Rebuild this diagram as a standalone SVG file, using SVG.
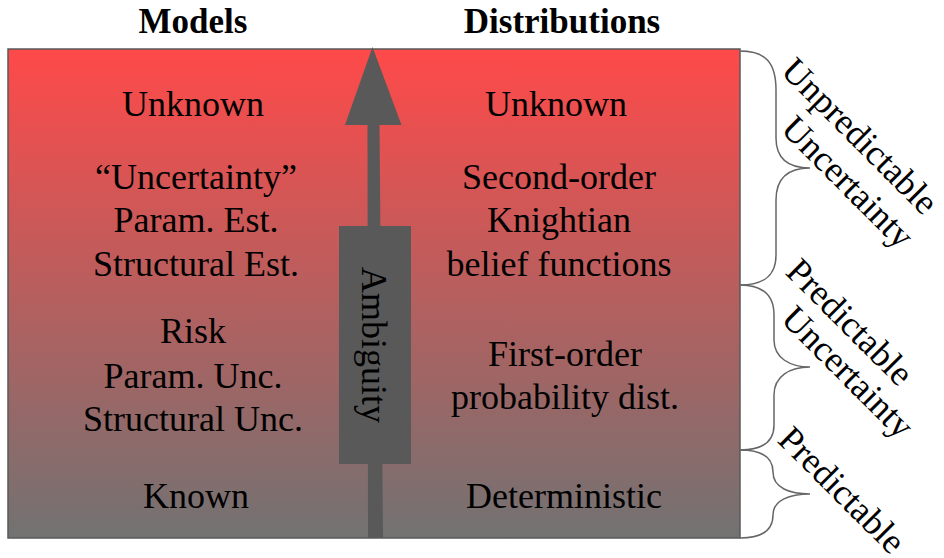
<svg xmlns="http://www.w3.org/2000/svg" width="944" height="558" viewBox="0 0 944 558">
<defs>
<linearGradient id="bg" x1="0" y1="0" x2="0" y2="1">
<stop offset="0" stop-color="#ff4949"/>
<stop offset="0.5" stop-color="#b65f5e"/>
<stop offset="1" stop-color="#727272"/>
</linearGradient>
<style>
.t{font-family:"Liberation Serif","Times New Roman",serif;font-size:36px;fill:#000;text-anchor:middle}
.h{font-weight:bold;font-size:35px}
.br{fill:none;stroke:#666;stroke-width:1.5}
</style>
</defs>
<g id="headers">
<text class="t h" x="193" y="33">Models</text>
<text class="t h" x="562" y="33">Distributions</text>
</g>
<g id="panel">
<rect x="8" y="49" width="732" height="489" fill="url(#bg)" stroke="#5a5a5a" stroke-width="1.5"/>
</g>
<g id="connectors">
<polygon points="368,538 383,538 379.5,124 367.5,124" fill="#595959"/>
<polygon points="372.5,47 401.5,125 345,125" fill="#595959"/>
<path class="br" d="M740,51 C765,51 776,62 776,90 L776,138 C776,160 790,168 810,168 C790,168 776,176 776,200 L776,255 C776,275 765,285 740,285"/>
<path class="br" d="M740,285 C762,285 774,295 774,315 L774,340 C774,358 790,367 810,367 C790,367 774,376 774,395 L774,425 C774,442 762,450 740,450"/>
<path class="br" d="M740,450 C762,450 773,458 773,472 C773,488 790,494 810,494 C790,494 773,500 773,515 C773,530 762,538 740,538"/>
</g>
<g id="ambiguity">
<rect x="339" y="226" width="72" height="238" fill="#595959"/>
<text class="t" x="0" y="0" transform="translate(362,345) rotate(90)">Ambiguity</text>
</g>
<g id="models">
<text class="t" x="193" y="116">Unknown</text>
<text class="t" x="196" y="189">“Uncertainty”</text>
<text class="t" x="196" y="232">Param. Est.</text>
<text class="t" x="196" y="276">Structural Est.</text>
<text class="t" x="193" y="343">Risk</text>
<text class="t" x="193" y="388">Param. Unc.</text>
<text class="t" x="193" y="431">Structural Unc.</text>
<text class="t" x="196" y="508">Known</text>
</g>
<g id="distributions">
<text class="t" x="556" y="116">Unknown</text>
<text class="t" x="559" y="189">Second-order</text>
<text class="t" x="559" y="232">Knightian</text>
<text class="t" x="559" y="276">belief functions</text>
<text class="t" x="565" y="366">First-order</text>
<text class="t" x="565" y="409">probability dist.</text>
<text class="t" x="564" y="508">Deterministic</text>
</g>
<g id="labels">
<text class="t" transform="translate(860,136) rotate(45)" dy="12">Unpredictable</text>
<text class="t" transform="translate(848,182) rotate(45)" dy="12">Uncertainty</text>
<text class="t" transform="translate(850,322) rotate(45)" dy="12">Predictable</text>
<text class="t" transform="translate(848,372) rotate(45)" dy="12">Uncertainty</text>
<text class="t" transform="translate(842,490) rotate(45)" dy="12">Predictable</text>
</g>
</svg>
